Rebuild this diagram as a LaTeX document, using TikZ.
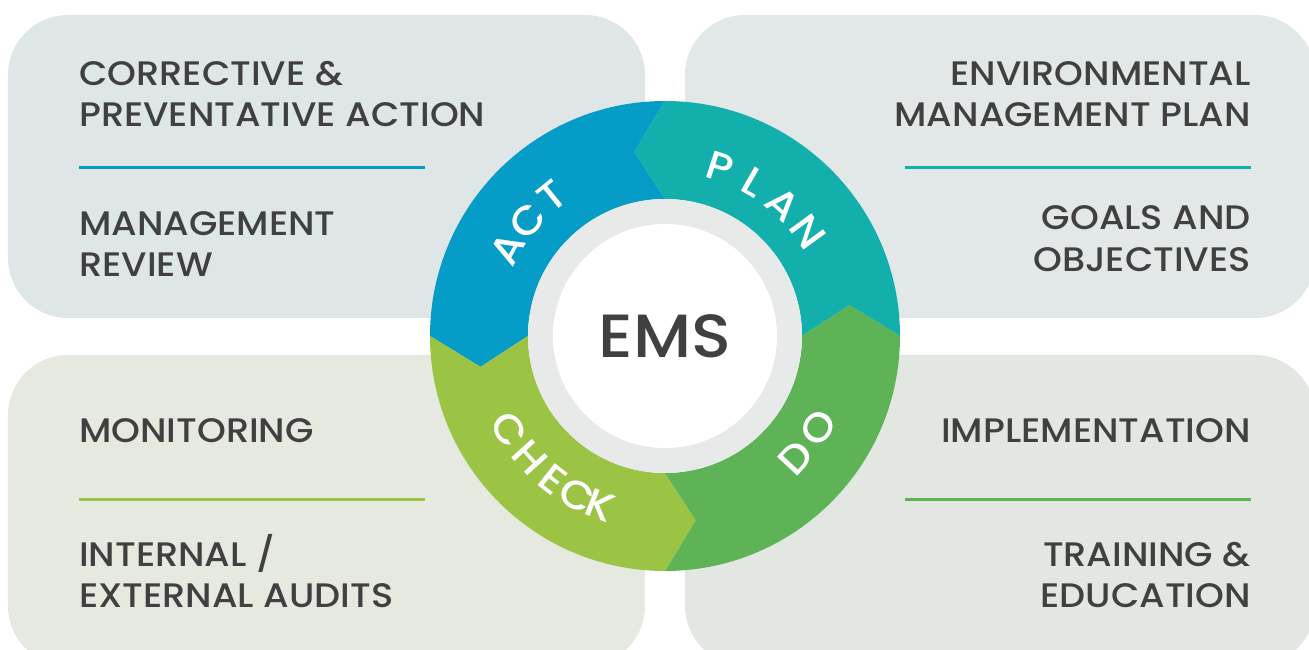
\documentclass[tikz,border=0pt]{standalone}
\usepackage{fontspec}
\setmainfont{Poppins}[UprightFont=* Medium, FakeStretch=1.08]
\definecolor{ink}{HTML}{404041}
\definecolor{actblue}{HTML}{059CC7}
\definecolor{planteal}{HTML}{12AFAC}
\definecolor{dogreen}{HTML}{5DB356}
\definecolor{checkgreen}{HTML}{9BC444}
\definecolor{ringgray}{HTML}{E8EAEA}
\definecolor{panelTL}{HTML}{DFE6E8}
\definecolor{panelTR}{HTML}{E2E8E8}
\definecolor{panelBL}{HTML}{E5E9E0}
\definecolor{panelBR}{HTML}{E2E7E2}
% one arrow-shaped quarter of the cycle ring, starting at angle #1
\newcommand{\emsseg}[2]{%
  \fill[#2] (#1:235) arc[start angle=#1, end angle=#1+90, radius=235]
    -- ({#1+99.5}:187) -- ({#1+90}:137)
    arc[start angle=#1+90, end angle=#1, radius=137]
    -- ({#1+9.5}:187) -- cycle;}
\begin{document}
\begin{tikzpicture}[x=1pt,y=1pt,
  panel/.style={rounded corners=60},
  paneltext/.style={font=\fontsize{34}{34}\selectfont, text=ink, inner sep=0pt},
  ringtext/.style={font=\fontsize{40}{40}\selectfont, text=white, inner sep=0pt, anchor=center},
  divider/.style={line width=3pt}]
\useasboundingbox (-665,-314) rectangle (644,336);
\begin{scope}
\clip (-665,-314) rectangle (644,336);
% background panels
\fill[panelTL, panel] (-657,18) rectangle (-20,321);
\fill[panelTR, panel] (20,18) rectangle (650,321);
\fill[panelBL, panel] (-657,-19) rectangle (-20,-330);
\fill[panelBR, panel] (20,-19) rectangle (650,-330);
\end{scope}
% divider rules
\coordinate (tlA) at (-586,168); \coordinate (tlB) at (-240,168);
\coordinate (trA) at (240,168);  \coordinate (trB) at (586,168);
\coordinate (blA) at (-586,-163); \coordinate (blB) at (-240,-163);
\coordinate (brA) at (240,-163);  \coordinate (brB) at (586,-163);
\draw[divider, actblue] (tlA) -- (tlB);
\draw[divider, planteal] (trA) -- (trB);
\draw[divider, checkgreen] (blA) -- (blB);
\draw[divider, dogreen] (brA) -- (brB);
% panel texts
\node[paneltext, anchor=base west] (tl1) at (-586,250) {CORRECTIVE \&};
\node[paneltext, anchor=base west] (tl2) at (-586,209) {PREVENTATIVE ACTION};
\node[paneltext, anchor=base west] (tl3) at (-586,100) {MANAGEMENT};
\node[paneltext, anchor=base west] (tl4) at (-586,59) {REVIEW};
\node[paneltext, anchor=base east] (tr1) at (586,250) {ENVIRONMENTAL};
\node[paneltext, anchor=base east] (tr2) at (586,209) {MANAGEMENT PLAN};
\node[paneltext, anchor=base east] (tr3) at (586,106) {GOALS AND};
\node[paneltext, anchor=base east] (tr4) at (586,64) {OBJECTIVES};
\node[paneltext, anchor=base west] (bl1) at (-586,-107) {MONITORING};
\node[paneltext, anchor=base west] (bl2) at (-586,-230) {INTERNAL /};
\node[paneltext, anchor=base west] (bl3) at (-586,-271) {EXTERNAL AUDITS};
\node[paneltext, anchor=base east] (br1) at (586,-107) {IMPLEMENTATION};
\node[paneltext, anchor=base east] (br2) at (586,-230) {TRAINING \&};
\node[paneltext, anchor=base east] (br3) at (586,-271) {EDUCATION};
% the cycle ring
\emsseg{0}{planteal}
\emsseg{90}{actblue}
\emsseg{180}{checkgreen}
\emsseg{270}{dogreen}
\fill[ringgray] (0,0) circle[radius=137];
\fill[white] (0,0) circle[radius=112];
\node[font=\fontsize{61}{61}\selectfont, text=ink, inner sep=0pt] (ems) at (0,0) {EMS};
% ring labels, letter by letter along the arc
\foreach \ch/\ang [count=\i] in {A/151, C/140, T/129}
  \node[ringtext, rotate=\ang-90] (act\i) at (\ang:180) {\ch};
\foreach \ch/\ang [count=\i] in {P/72, L/60, A/48, N/36}
  \node[ringtext, rotate=\ang-90] (plan\i) at (\ang:177) {\ch};
\foreach \ch/\ang [count=\i] in {D/-43, O/-31}
  \node[ringtext, rotate=\ang+90] (do\i) at (\ang:179) {\ch};
\foreach \ch/\ang [count=\i] in {C/211, H/222, E/232, C/241, K/249}
  \node[ringtext, rotate=\ang+90] (check\i) at (\ang:182) {\ch};
\end{tikzpicture}
\end{document}
